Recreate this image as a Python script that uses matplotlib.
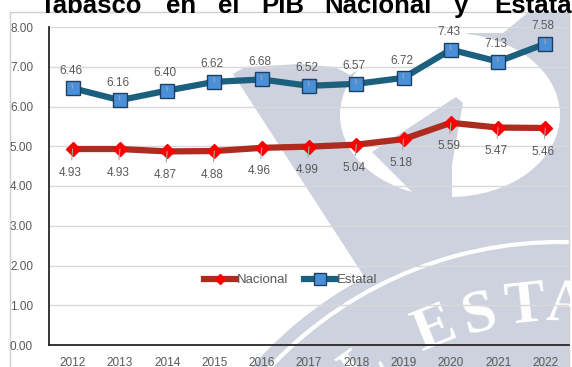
import numpy as np
import matplotlib
matplotlib.use('Agg')
from matplotlib import pyplot as plt
from matplotlib.patches import Polygon, Ellipse, Circle, Arc, Rectangle

plt.rcParams['font.family'] = ['Liberation Sans', 'DejaVu Sans']

years = [2012, 2013, 2014, 2015, 2016, 2017, 2018, 2019, 2020, 2021, 2022]
nacional = [4.93, 4.93, 4.87, 4.88, 4.96, 4.99, 5.04, 5.18, 5.59, 5.47, 5.46]
estatal = [6.46, 6.16, 6.40, 6.62, 6.68, 6.52, 6.57, 6.72, 7.43, 7.13, 7.58]
y_ticks = [0, 1, 2, 3, 4, 5, 6, 7, 8]
title_words = ['Tabasco', 'en', 'el', 'PIB', 'Nacional', 'y', 'Estatal']
title_x = [40, 166, 218, 261, 324, 454, 494]

W, H = 572, 367
red_line = '#AD2B1F'
red_mark = '#FF0000'
blue_line = '#1C6080'
blue_mark = '#4A90D9'
label_grey = '#595959'
seal = '#CDD2DE'

fig = plt.figure(figsize=(W / 100, H / 100), dpi=100)

# background layer in pixel units: frame and seal watermark
bg = fig.add_axes([0, 0, 1, 1], zorder=0)
bg.set_xlim(0, W)
bg.set_ylim(H, 0)
bg.axis('off')
clip = Rectangle((10, 12), 560, 360, transform=bg.transData)

shapes = [
    Polygon([(233, 74), (245, 67), (300, 64), (335, 67), (350, 75), (400, 45),
             (470, 33), (503, 33), (525, 15), (545, 0), (572, 0), (572, 367),
             (400, 367), (365, 278)], closed=True, fc=seal, ec='none'),
    Circle((560, 640), 412, fc=seal, ec='none'),
    Ellipse((450, 115), 220, 164, fc='white', ec='none'),
    Polygon([(372, 152), (456, 97), (463, 103), (452, 165), (452, 200), (420, 200)],
            closed=True, fc=seal, ec='none'),
    Arc((560, 640), 2 * 398, 2 * 398, theta1=180, theta2=280, color='white', lw=3),
]
for p in shapes:
    bg.add_patch(p)
    p.set_clip_path(clip)

for ch, dx in [('L', -195), ('E', -125), ('S', -80), ('T', -35), ('A', 8)]:
    cy = 640 - np.sqrt(335 ** 2 - dx ** 2)
    rot = np.degrees(np.arcsin(-dx / 335))
    bg.text(560 + dx, cy, ch, family='Liberation Serif', fontsize=44,
            fontweight='bold', color='white', rotation=rot, ha='center',
            va='center', rotation_mode='anchor', clip_path=clip)

bg.plot([10, 10, 569, 569], [367, 12, 12, 367], color='#D0D0D0', lw=1)

for word, x in zip(title_words, title_x):
    bg.text(x, 13, word, fontsize=18.5, fontweight='bold', color='black',
            ha='left', va='baseline')

# chart
ax = fig.add_axes([49 / W, (H - 345) / H, 520 / W, 318 / H], zorder=1)
ax.patch.set_alpha(0)

ax.plot(years, nacional, color=red_line, lw=4.5, marker='D', ms=7,
        mfc=red_mark, mec=red_mark, label='Nacional', zorder=3)
ax.plot(years, estatal, color=blue_line, lw=4.5, marker='s', ms=10,
        mfc=blue_mark, mec='#1F3F60', mew=1, label='Estatal', zorder=3)

lead = dict(arrowstyle='-', color='#A6A6A6', lw=0.8, shrinkA=3, shrinkB=0)
for x, v in zip(years, estatal):
    ax.annotate(f'{v:.2f}', (x, v), xytext=(-1.5, 12.5), textcoords='offset points',
                ha='center', va='center', fontsize=8.5, color=label_grey,
                arrowprops=lead, zorder=4)
for x, v in zip(years, nacional):
    ax.annotate(f'{v:.2f}', (x, v), xytext=(-1.5, -17), textcoords='offset points',
                ha='center', va='center', fontsize=8.5, color=label_grey,
                arrowprops=lead, zorder=4)

ax.set_xlim(2011.5, 2022.5)
ax.set_ylim(0, 8)
ax.set_xticks(years)
ax.set_yticks(y_ticks)
ax.set_yticklabels([f'{t:.2f}' for t in y_ticks])
ax.tick_params(axis='both', length=0, labelsize=8.5, labelcolor=label_grey)
ax.tick_params(axis='y', pad=11.5)
ax.tick_params(axis='x', pad=8.5)
ax.grid(axis='y', color='#D9D9D9', lw=1)
ax.set_axisbelow(True)
for side in ['top', 'right']:
    ax.spines[side].set_visible(False)
for side in ['left', 'bottom']:
    ax.spines[side].set_color('#262626')
    ax.spines[side].set_linewidth(1.3)

leg = ax.legend(loc='center', bbox_to_anchor=((291 - 49) / 520, (345 - 280) / 318),
                ncol=2, frameon=False, fontsize=9.5, handlelength=2.4,
                handletextpad=0.1, columnspacing=1.2, markerscale=0.8)
for t in leg.get_texts():
    t.set_color(label_grey)

fig.savefig('out.png', dpi=100)
